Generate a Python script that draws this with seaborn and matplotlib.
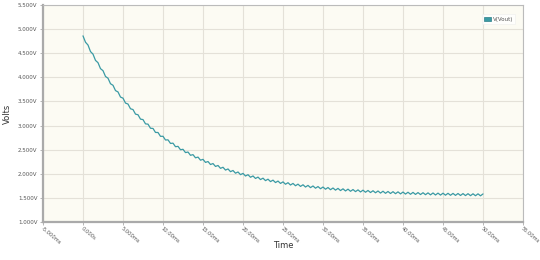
import numpy as np
import pandas as pd
import matplotlib
matplotlib.use("Agg")
import matplotlib.pyplot as plt
from matplotlib.patches import Patch
import seaborn as sns

# ---- data ----
series_name = "V(Vout)"
# voltage samples, alternating ripple peak / trough, from t = 0 ms to t = 50 ms
volts = [
    4.860, 4.728, 4.670, 4.534, 4.481, 4.351, 4.304, 4.180, 4.138, 4.018,
    3.982, 3.867, 3.835, 3.725, 3.697, 3.591, 3.568, 3.466, 3.446, 3.348,
    3.332, 3.237, 3.224, 3.133, 3.124, 3.035, 3.029, 2.944, 2.940, 2.857,
    2.856, 2.776, 2.778, 2.700, 2.704, 2.629, 2.635, 2.561, 2.569, 2.498,
    2.508, 2.439, 2.451, 2.383, 2.397, 2.331, 2.346, 2.282, 2.299, 2.236,
    2.254, 2.192, 2.212, 2.152, 2.172, 2.113, 2.135, 2.077, 2.100, 2.044,
    2.068, 2.012, 2.037, 1.982, 2.008, 1.954, 1.981, 1.928, 1.955, 1.903,
    1.931, 1.880, 1.909, 1.858, 1.888, 1.838, 1.868, 1.818, 1.849, 1.800,
    1.832, 1.783, 1.815, 1.767, 1.800, 1.752, 1.785, 1.738, 1.772, 1.725,
    1.759, 1.713, 1.747, 1.701, 1.735, 1.690, 1.725, 1.680, 1.715, 1.670,
    1.705, 1.661, 1.697, 1.652, 1.688, 1.644, 1.681, 1.637, 1.673, 1.630,
    1.666, 1.623, 1.660, 1.617, 1.654, 1.611, 1.648, 1.606, 1.643, 1.600,
    1.638, 1.595, 1.633, 1.591, 1.629, 1.587, 1.625, 1.583, 1.621, 1.579,
    1.617, 1.575, 1.614, 1.572, 1.610, 1.569, 1.607, 1.566, 1.604, 1.563,
    1.602, 1.560, 1.599, 1.558, 1.597, 1.556, 1.595, 1.554, 1.593, 1.552,
    1.591, 1.550, 1.589, 1.548, 1.587, 1.546, 1.585, 1.545, 1.584, 1.543,
    1.582,
]
t_start_ms, t_end_ms = 0.0, 50.0
time_ms = np.linspace(t_start_ms, t_end_ms, len(volts))

x_ticks = [-5, 0, 5, 10, 15, 20, 25, 30, 35, 40, 45, 50, 55]
x_tick_labels = ["-5.000ms", "0.000s", "5.000ms", "10.00ms", "15.00ms",
                 "20.00ms", "25.00ms", "30.00ms", "35.00ms", "40.00ms",
                 "45.00ms", "50.00ms", "55.00ms"]
y_ticks = [1.0, 1.5, 2.0, 2.5, 3.0, 3.5, 4.0, 4.5, 5.0, 5.5]
y_tick_labels = ["1.000V", "1.500V", "2.000V", "2.500V", "3.000V",
                 "3.500V", "4.000V", "4.500V", "5.000V", "5.500V"]

df = pd.DataFrame({"Time": time_ms, "Volts": volts})

# ---- style ----
sns.set_theme(style="whitegrid")
plt.rcParams["font.family"] = ["DejaVu Sans"]

line_color = "#3a9aa4"
fig = plt.figure(figsize=(5.4, 2.6), dpi=100)
ax = fig.add_axes([43 / 540, 1 - 222 / 260, (523 - 43) / 540, (222 - 5) / 260])
ax.set_facecolor("#fcfbf3")

sns.lineplot(data=df, x="Time", y="Volts", ax=ax, color=line_color,
             linewidth=0.9, legend=False)

ax.set_xlim(-5, 55)
ax.set_ylim(1.0, 5.5)
ax.set_xticks(x_ticks)
ax.set_xticklabels(x_tick_labels, rotation=-40, ha="left",
                   rotation_mode="anchor", fontsize=3.7, color="#555555")
ax.set_yticks(y_ticks)
ax.set_yticklabels(y_tick_labels, fontsize=4.0, color="#555555")
ax.tick_params(axis="both", length=2, width=0.5, color="#999999", pad=2,
               bottom=True, left=True)
ax.tick_params(axis="x", pad=1)
ax.grid(True, color="#e4e1d8", linewidth=0.8)

for side in ("top", "right"):
    ax.spines[side].set_color("#bbbbbb")
    ax.spines[side].set_linewidth(0.8)
for side in ("left", "bottom"):
    ax.spines[side].set_color("#aaaaaa")
    ax.spines[side].set_linewidth(1.6)

ax.set_xlabel("Time", fontsize=6, color="#333333")
ax.xaxis.set_label_coords(0.5, -0.088)
ax.set_ylabel("Volts", fontsize=6, color="#333333", labelpad=4)

handles = [Patch(facecolor=line_color, edgecolor="#2c7f88", linewidth=0.5,
                 label=series_name)]
leg = ax.legend(handles=handles, loc="upper right", fontsize=4.0,
                frameon=True, handlelength=1.2, handleheight=0.9,
                handletextpad=0.3, borderpad=0.4, fancybox=False,
                bbox_to_anchor=(0.99, 0.97))
leg.get_frame().set_facecolor("white")
leg.get_frame().set_edgecolor("#eeeeee")
leg.get_frame().set_linewidth(0.5)
for txt in leg.get_texts():
    txt.set_color("#555555")

fig.savefig("out.png", dpi=100, facecolor="white")
